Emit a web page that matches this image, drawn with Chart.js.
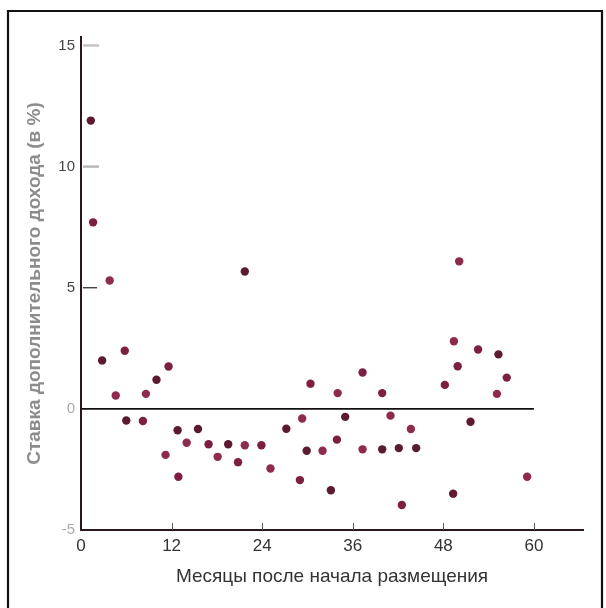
<!DOCTYPE html>
<html>
<head>
<meta charset="utf-8">
<script src="https://cdn.jsdelivr.net/npm/chart.js@4/dist/chart.umd.min.js"></script>
<style>
  html, body { margin: 0; padding: 0; background: #fff; }
  #wrap { width: 606px; height: 608px; position: relative; }
</style>
</head>
<body>
<div id="wrap"><canvas id="c" width="606" height="608"></canvas></div>
<script>
// Months since placement and the excess return observed at each point (in %)
const months = [1.3, 1.6, 3.8, 2.8, 5.8, 4.6, 6.0, 8.2, 8.6, 10.0, 11.6, 11.2, 12.8, 12.9,
  14.0, 15.5, 16.9, 18.1, 19.5, 20.8, 21.7, 21.7, 23.9, 25.1, 27.2, 29.0, 29.3, 29.9,
  30.4, 32.0, 33.1, 33.9, 34.0, 35.0, 37.3, 37.3, 39.9, 39.9, 41.0, 42.1, 42.5, 43.7,
  44.4, 48.2, 49.4, 49.3, 49.9, 50.1, 51.6, 52.6, 55.1, 55.3, 56.4, 59.1];
const returns = [11.9, 7.7, 5.3, 2.0, 2.4, 0.55, -0.48, -0.5, 0.62, 1.2, 1.75, -1.9, -0.88, -2.8,
  -1.4, -0.83, -1.46, -1.98, -1.46, -2.2, -1.5, 5.67, -1.5, -2.46, -0.82, -2.94, -0.4, -1.73,
  1.04, -1.73, -3.36, -1.27, 0.65, -0.33, 1.5, -1.67, -1.67, 0.65, -0.28, -1.62, -3.97, -0.83,
  -1.62, 0.99, 2.79, -3.5, 1.76, 6.09, -0.53, 2.45, 0.62, 2.25, 1.29, -2.8];

// Axis ticks
const xTicks = [0, 12, 24, 36, 48, 60];
const yTicks = [-5, 0, 5, 10, 15];

// Reference line at zero return, spanning the first five years
const zeroLine = [{x: 0, y: 0}, {x: 60, y: 0}];

const points = months.map((m, i) => ({x: m, y: returns[i]}));
const dotShades = ['#5c1a32', '#7d1f42', '#8e2a4c'];

// Frame around the figure plus the short axis marks
const decorations = {
  id: 'decorations',
  beforeDraw(chart) {
    const ctx = chart.ctx;
    ctx.save();
    ctx.strokeStyle = '#111';
    ctx.lineWidth = 2.2;
    ctx.beginPath();
    ctx.moveTo(8, 620);
    ctx.lineTo(8, 11);
    ctx.lineTo(602, 11);
    ctx.lineTo(602, 620);
    ctx.stroke();
    ctx.restore();
  },
  afterDatasetsDraw(chart) {
    const ctx = chart.ctx;
    const xs = chart.scales.x, ys = chart.scales.y;
    const area = chart.chartArea;
    ctx.save();
    // small upward marks on the month axis
    ctx.strokeStyle = '#555';
    ctx.lineWidth = 1;
    xTicks.slice(1).forEach(v => {
      const px = Math.round(xs.getPixelForValue(v)) + 0.5;
      ctx.beginPath();
      ctx.moveTo(px, area.bottom);
      ctx.lineTo(px, area.bottom - 7);
      ctx.stroke();
    });
    // dashes beside the return axis
    [[15, '#c4c4c4', 2.5, 16], [10, '#b8b8b8', 2.5, 16], [5, '#333', 1.3, 14]].forEach(([v, col, w, len]) => {
      const py = ys.getPixelForValue(v);
      ctx.strokeStyle = col;
      ctx.lineWidth = w;
      ctx.beginPath();
      ctx.moveTo(area.left + 2, py);
      ctx.lineTo(area.left + 2 + len, py);
      ctx.stroke();
    });
    ctx.restore();
  }
};

new Chart(document.getElementById('c'), {
  type: 'scatter',
  data: {
    datasets: [
      {
        type: 'line',
        data: zeroLine,
        borderColor: '#111',
        borderWidth: 1.6,
        pointRadius: 0,
        fill: false,
        order: 2
      },
      {
        data: points,
        pointRadius: 4.2,
        pointHoverRadius: 4.2,
        borderWidth: 0,
        backgroundColor: ctx => dotShades[ctx.dataIndex % dotShades.length],
        order: 1
      }
    ]
  },
  options: {
    responsive: false,
    animation: false,
    devicePixelRatio: 1,
    layout: { padding: { left: 0, top: 37, right: 23, bottom: 0 } },
    plugins: { legend: { display: false }, tooltip: { enabled: false } },
    scales: {
      x: {
        type: 'linear',
        min: 0,
        max: 66.5,
        afterBuildTicks: s => { s.ticks = xTicks.map(v => ({value: v})); },
        afterFit: s => { s.height = 78; },
        grid: { display: false, drawTicks: false },
        border: { display: true, color: '#2a1620', width: 2 },
        ticks: {
          padding: 6,
          color: '#333',
          font: { family: 'Liberation Sans', size: 17 },
          maxRotation: 0
        },
        title: {
          display: true,
          text: 'Месяцы после начала размещения',
          color: '#333',
          font: { family: 'Liberation Sans', size: 19 },
          padding: { top: 0, bottom: 20 }
        }
      },
      y: {
        type: 'linear',
        min: -5,
        max: 15.35,
        afterBuildTicks: s => { s.ticks = yTicks.map(v => ({value: v})); },
        afterFit: s => { s.width = 81; },
        grid: { display: false, drawTicks: false },
        border: { display: true, color: '#2a1620', width: 2 },
        ticks: {
          padding: 6,
          color: c => (c.tick && c.tick.value <= 0 ? '#aaa' : '#444'),
          font: { family: 'Liberation Sans', size: 15 }
        },
        title: {
          display: true,
          text: 'Ставка дополнительного дохода (в %)',
          color: '#8c8c8c',
          font: { family: 'Liberation Sans', size: 19, weight: 'bold' },
          padding: { top: 23, bottom: 0 }
        }
      }
    }
  },
  plugins: [decorations]
});
</script>
</body>
</html>
